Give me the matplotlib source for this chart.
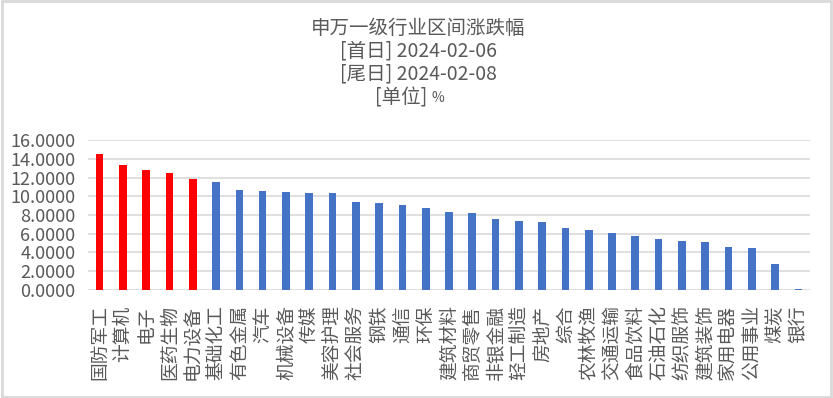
import matplotlib
matplotlib.use("Agg")
import matplotlib.pyplot as plt
from matplotlib.patches import Rectangle
from matplotlib.ticker import MultipleLocator, FormatStrFormatter

plt.rcParams['font.family'] = ['Noto Sans CJK SC', 'DejaVu Sans']

industries = ['国防军工', '计算机', '电子', '医药生物', '电力设备', '基础化工', '有色金属', '汽车',
              '机械设备', '传媒', '美容护理', '社会服务', '钢铁', '通信', '环保', '建筑材料',
              '商贸零售', '非银金融', '轻工制造', '房地产', '综合', '农林牧渔', '交通运输',
              '食品饮料', '石油石化', '纺织服饰', '建筑装饰', '家用电器', '公用事业', '煤炭', '银行']
changes = [14.47, 13.30, 12.76, 12.44, 11.80, 11.55, 10.62, 10.51, 10.50, 10.40, 10.30,
           9.44, 9.23, 9.12, 8.70, 8.27, 8.16, 7.52, 7.41, 7.20, 6.66, 6.45, 6.13, 5.81,
           5.49, 5.27, 5.16, 4.63, 4.52, 2.81, 0.14]
n_top = 5  # first bars highlighted in red

text_col = '#595959'
grid_col = '#d9d9d9'

fig = plt.figure(figsize=(8.33, 3.98), dpi=100)
ax = fig.add_axes([0.1056, 0.2714, 0.8668, 0.3768])

colors = ['#ff0000' if i < n_top else '#4472c4' for i in range(len(changes))]
x = range(len(industries))
ax.bar(x, changes, width=0.33, color=colors, zorder=3)

ax.set_xlim(-0.5, len(industries) - 0.5)
ax.set_ylim(0, 16)
ax.yaxis.set_major_locator(MultipleLocator(2))
ax.yaxis.set_major_formatter(FormatStrFormatter('%.4f'))
ax.grid(axis='y', color=grid_col, linewidth=1.2, zorder=0)
for s in ax.spines.values():
    s.set_visible(False)
ax.tick_params(axis='both', length=0, colors=text_col)
ax.tick_params(axis='y', labelsize=13, pad=9)
ax.set_xticks(list(x))
ax.set_xticklabels(industries, rotation=90, fontsize=13.5, color=text_col, va='top')
ax.tick_params(axis='x', pad=11)

titles = ['申万一级行业区间涨跌幅', '[首日] 2024-02-06', '[尾日] 2024-02-08']
ys = [1 - 28 / 398, 1 - 51 / 398, 1 - 74 / 398]
for t, yy in zip(titles, ys):
    fig.text(0.502, yy, t, ha='center', va='center', fontsize=14, color=text_col)
# last title line: unit sign is drawn smaller
y_unit = 1 - 98 / 398
fig.text(0.5185, y_unit, '[单位] ', ha='right', va='center', fontsize=14, color=text_col)
fig.text(0.5185, y_unit, '%', ha='left', va='center', fontsize=10, color=text_col)

fig.patches.append(Rectangle((0.002, 0.003), 0.996, 0.994, transform=fig.transFigure,
                             fill=False, edgecolor=grid_col, linewidth=2))

fig.savefig('out.png', dpi=100)
